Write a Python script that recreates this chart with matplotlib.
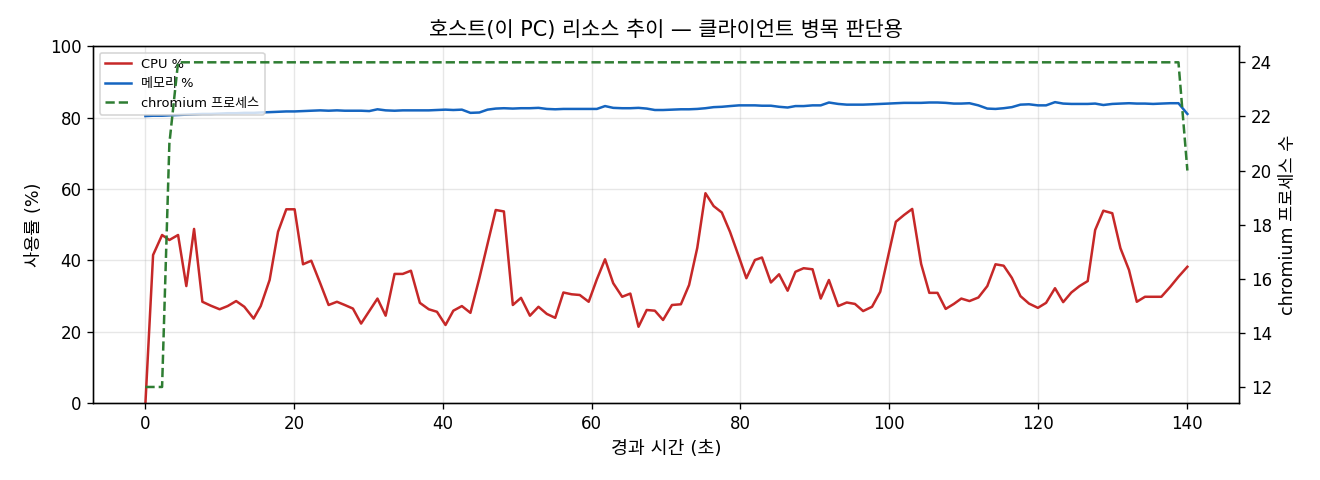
import matplotlib
matplotlib.use("Agg")
import matplotlib.pyplot as plt

# Latin glyphs from DejaVu (wider, closer to the original), Hangul falls through to Noto CJK
plt.rcParams['font.family'] = ['DejaVu Sans', 'Noto Sans CJK KR']
plt.rcParams['axes.unicode_minus'] = False

# elapsed seconds of each sample
elapsed = [0.0, 1.03, 2.24, 3.22, 4.39, 5.5, 6.54, 7.66, 8.8, 9.98,
           11.06, 12.2, 13.3, 14.55, 15.5, 16.7, 17.83, 18.94, 20.06, 21.19,
           22.3, 23.5, 24.63, 25.75, 26.8, 27.9, 29.0, 30.1, 31.2, 32.3,
           33.5, 34.6, 35.7, 36.9, 38.1, 39.2, 40.35, 41.4, 42.55, 43.7,
           44.9, 46.0, 47.1, 48.2, 49.4, 50.5, 51.7, 52.85, 53.97, 55.1,
           56.2, 57.3, 58.4, 59.6, 60.7, 61.8, 62.9, 64.1, 65.2, 66.3,
           67.4, 68.5, 69.6, 70.8, 72.0, 73.1, 74.2, 75.3, 76.4, 77.5,
           78.6, 79.8, 80.8, 81.95, 82.9, 84.1, 85.2, 86.35, 87.4, 88.5,
           89.7, 90.8, 91.9, 93.15, 94.3, 95.4, 96.5, 97.7, 98.8, 99.9,
           100.9, 102.0, 103.1, 104.3, 105.4, 106.5, 107.6, 108.7, 109.7, 110.8,
           112.0, 113.2, 114.3, 115.4, 116.5, 117.65, 118.8, 120.0, 121.1, 122.3,
           123.4, 124.5, 125.6, 126.7, 127.7, 128.8, 130.0, 131.1, 132.25, 133.3,
           134.4, 135.5, 136.6, 137.8, 138.9, 140.1]

cpu_pct = [0.0, 41.5, 47.1, 45.7, 47.1, 32.8, 48.8, 28.4, 27.3, 26.3,
           27.2, 28.6, 27.0, 23.7, 27.2, 34.5, 48.0, 54.3, 54.3, 38.9,
           39.9, 33.6, 27.5, 28.4, 27.5, 26.5, 22.3, 25.8, 29.3, 24.5,
           36.2, 36.2, 37.1, 28.1, 26.3, 25.6, 21.9, 25.9, 27.2, 25.3,
           35.0, 44.6, 54.1, 53.7, 27.5, 29.5, 24.5, 27.0, 25.0, 23.9,
           31.0, 30.5, 30.3, 28.4, 34.7, 40.3, 33.6, 29.8, 30.7, 21.4,
           26.1, 25.9, 23.3, 27.5, 27.7, 33.1, 43.5, 58.8, 55.2, 53.4,
           48.0, 41.0, 35.0, 40.1, 40.8, 33.8, 36.1, 31.5, 36.8, 37.8,
           37.5, 29.3, 34.5, 27.2, 28.2, 27.8, 25.8, 27.0, 31.2, 41.5,
           50.8, 52.7, 54.4, 39.0, 30.9, 30.9, 26.4, 27.8, 29.3, 28.6,
           29.6, 32.8, 38.9, 38.5, 35.1, 30.0, 27.9, 26.7, 28.1, 32.2,
           28.3, 31.0, 32.8, 34.2, 48.5, 53.9, 53.2, 43.4, 37.3, 28.4,
           29.8, 29.8, 29.8, 32.6, 35.4, 38.2]

mem_pct = [80.4, 80.5, 80.5, 80.6, 80.7, 80.8, 80.9, 81.0, 81.0, 81.1,
           81.2, 81.2, 81.3, 81.3, 81.4, 81.5, 81.6, 81.7, 81.7, 81.8,
           81.9, 82.0, 81.9, 82.0, 81.9, 81.9, 81.9, 81.8, 82.3, 82.0,
           81.9, 82.0, 82.0, 82.0, 82.0, 82.1, 82.2, 82.1, 82.2, 81.3,
           81.4, 82.2, 82.5, 82.6, 82.5, 82.6, 82.6, 82.7, 82.4, 82.3,
           82.4, 82.4, 82.4, 82.4, 82.4, 83.2, 82.7, 82.6, 82.6, 82.7,
           82.5, 82.1, 82.1, 82.2, 82.3, 82.3, 82.4, 82.6, 82.9, 83.0,
           83.2, 83.4, 83.4, 83.4, 83.3, 83.3, 83.0, 82.8, 83.2, 83.2,
           83.4, 83.4, 84.2, 83.8, 83.6, 83.6, 83.6, 83.7, 83.8, 83.9,
           84.0, 84.1, 84.1, 84.1, 84.2, 84.2, 84.1, 83.9, 83.9, 84.0,
           83.4, 82.5, 82.4, 82.6, 82.9, 83.6, 83.7, 83.4, 83.4, 84.3,
           83.9, 83.8, 83.8, 83.8, 83.9, 83.5, 83.8, 83.9, 84.0, 83.9,
           83.9, 83.8, 83.9, 84.0, 84.0, 81.0]

chromium_procs = [12, 12, 12, 21] + [24] * 121 + [20]

fig, ax = plt.subplots(figsize=(11, 4), dpi=120)
ax2 = ax.twinx()

l1, = ax.plot(elapsed, cpu_pct, color='#c62828', lw=1.5, label='CPU %')
l2, = ax.plot(elapsed, mem_pct, color='#1565c0', lw=1.5, label='메모리 %')
l3, = ax2.plot(elapsed, chromium_procs, color='#2e7d32', lw=1.5, ls='--', label='chromium 프로세스')

ax.set_ylim(0, 100)
ax.set_xlabel('경과 시간 (초)', fontsize=11)
ax.set_ylabel('사용률 (%)', fontsize=10.5)
ax2.set_ylabel('chromium 프로세스 수', fontsize=10.5)
ax.set_title('호스트(이 PC) 리소스 추이 — 클라이언트 병목 판단용', fontsize=12.5)
ax.grid(True, alpha=0.3)

ax.legend(handles=[l1, l2, l3], loc='upper left', fontsize=7.8)

fig.subplots_adjust(left=0.0707, right=0.939, top=0.904, bottom=0.160)
fig.savefig('out.png')
